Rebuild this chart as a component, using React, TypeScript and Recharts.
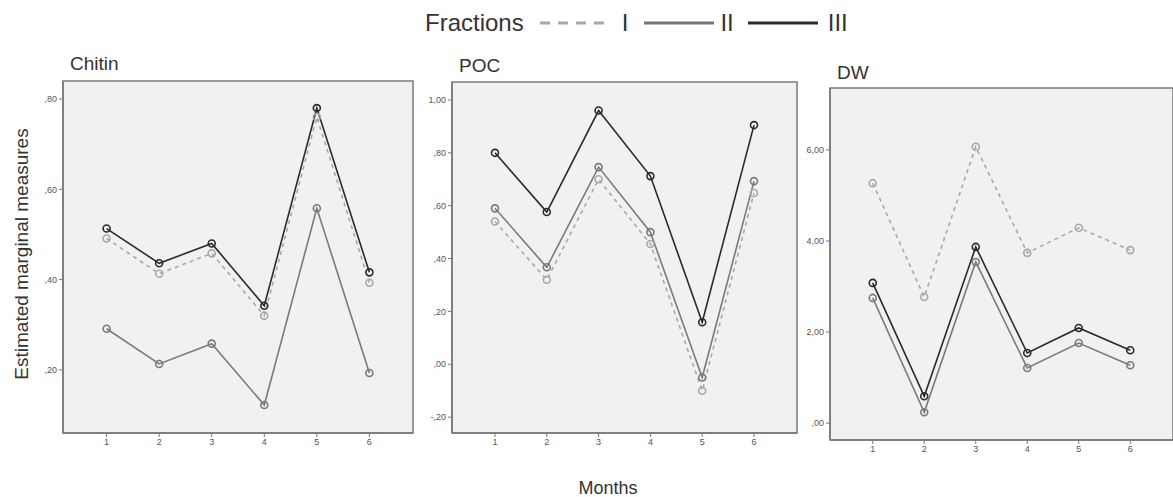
import React from "react";
import { LineChart, Line, XAxis, YAxis, ReferenceArea } from "recharts";

const months = [1, 2, 3, 4, 5, 6];

const chitinI = [0.491, 0.413, 0.458, 0.32, 0.76, 0.393];
const chitinII = [0.291, 0.213, 0.258, 0.122, 0.558, 0.193];
const chitinIII = [0.513, 0.436, 0.48, 0.342, 0.78, 0.416];

const pocI = [0.54, 0.32, 0.7, 0.455, -0.1, 0.648];
const pocII = [0.59, 0.367, 0.746, 0.5, -0.05, 0.693];
const pocIII = [0.8, 0.576, 0.96, 0.712, 0.159, 0.905];

const dwI = [5.27, 2.77, 6.07, 3.74, 4.29, 3.8];
const dwII = [2.75, 0.24, 3.54, 1.21, 1.76, 1.27];
const dwIII = [3.08, 0.59, 3.87, 1.54, 2.09, 1.6];

const chitinTicks = [0.2, 0.4, 0.6, 0.8];
const pocTicks = [-0.2, 0, 0.2, 0.4, 0.6, 0.8, 1.0];
const dwTicks = [0, 2, 4, 6];

const FONT = "'Liberation Sans', Arial, Helvetica, sans-serif";
const X_DOMAIN: [number, number] = [0.17, 6.83];

const buildRows = (a: number[], b: number[], c: number[]) =>
  months.map((m, i) => ({ month: m, I: a[i], II: b[i], III: c[i] }));

// spss style: ",80" / "1,00" / "-,20"
const fmt = (v: number) => {
  const s = Math.abs(v).toFixed(2).replace(".", ",");
  const t = s.startsWith("0") ? s.slice(1) : s;
  return (v < 0 ? "-" : "") + t;
};

const SERIES = [
  { key: "I", color: "#a8a8a8", dash: "4 4", width: 1.6 },
  { key: "II", color: "#7a7a7a", dash: undefined, width: 1.6 },
  { key: "III", color: "#2a2a2a", dash: undefined, width: 1.6 },
];

const Panel: React.FC<{
  title: string;
  rows: { month: number; I: number; II: number; III: number }[];
  yDomain: [number, number];
  yTicks: number[];
  plotLeft: number;
  plotTop: number;
  plotW: number;
  plotH: number;
  titleTop: number;
}> = ({ title, rows, yDomain, yTicks, plotLeft, plotTop, plotW, plotH, titleTop }) => {
  const yW = 50;
  const mTop = 5;
  const xH = 30;
  return (
    <>
      <div
        style={{
          position: "absolute",
          left: plotLeft + 7,
          top: titleTop,
          fontFamily: FONT,
          fontSize: 19,
          color: "#333",
          lineHeight: 1,
        }}
      >
        {title}
      </div>
      <div style={{ position: "absolute", left: plotLeft - yW, top: plotTop - mTop }}>
        <LineChart
          width={yW + plotW + 2}
          height={plotH + mTop + xH}
          data={rows}
          margin={{ top: mTop, right: 2, bottom: 0, left: 0 }}
        >
          <XAxis
            type="number"
            dataKey="month"
            domain={X_DOMAIN}
            ticks={months}
            allowDataOverflow
            height={xH}
            tickSize={4}
            axisLine={{ stroke: "#777", strokeWidth: 1.5 }}
            tickLine={{ stroke: "#777" }}
            tick={{ fontSize: 9, fill: "#555", fontFamily: FONT }}
          />
          <YAxis
            type="number"
            domain={yDomain}
            ticks={yTicks}
            allowDataOverflow
            width={yW}
            tickSize={4}
            tickFormatter={fmt}
            axisLine={{ stroke: "#777", strokeWidth: 1.5 }}
            tickLine={{ stroke: "#777" }}
            tick={{ fontSize: 9, fill: "#555", fontFamily: FONT }}
          />
          <ReferenceArea
            x1={X_DOMAIN[0]}
            x2={X_DOMAIN[1]}
            y1={yDomain[0]}
            y2={yDomain[1]}
            fill="#f1f1f1"
            fillOpacity={1}
            stroke="#7a7a7a"
            strokeWidth={1.5}
          />
          {SERIES.map((s) => (
            <Line
              key={s.key}
              dataKey={s.key}
              type="linear"
              stroke={s.color}
              strokeWidth={s.width}
              strokeDasharray={s.dash}
              dot={{ r: 3.5, stroke: s.color, strokeWidth: 1.6, fill: "none", strokeDasharray: "" }}
              activeDot={false}
              isAnimationActive={false}
            />
          ))}
        </LineChart>
      </div>
    </>
  );
};

const Legend = () => (
  <div
    style={{
      position: "absolute",
      left: 425,
      top: 8,
      height: 30,
      display: "flex",
      alignItems: "center",
      fontFamily: FONT,
      fontSize: 24,
      color: "#333",
    }}
  >
    <span>Fractions</span>
    <svg width={70} height={10} style={{ marginLeft: 16 }}>
      <line x1={0} y1={5} x2={64} y2={5} stroke="#a8a8a8" strokeWidth={3} strokeDasharray="10 8" />
    </svg>
    <span style={{ marginLeft: 12 }}>I</span>
    <svg width={72} height={10} style={{ marginLeft: 16 }}>
      <line x1={0} y1={5} x2={70} y2={5} stroke="#777" strokeWidth={3} />
    </svg>
    <span style={{ marginLeft: 4 }}>II</span>
    <svg width={72} height={10} style={{ marginLeft: 14 }}>
      <line x1={0} y1={5} x2={70} y2={5} stroke="#2a2a2a" strokeWidth={3} />
    </svg>
    <span style={{ marginLeft: 8 }}>III</span>
  </div>
);

export default function App() {
  return (
    <div
      style={{
        position: "absolute",
        left: 0,
        top: 0,
        width: 1173,
        height: 497,
        background: "#fff",
        overflow: "hidden",
      }}
    >
      <Legend />
      <Panel
        title="Chitin"
        rows={buildRows(chitinI, chitinII, chitinIII)}
        yDomain={[0.06, 0.84]}
        yTicks={chitinTicks}
        plotLeft={63}
        plotTop={81}
        plotW={350}
        plotH={352}
        titleTop={54}
      />
      <Panel
        title="POC"
        rows={buildRows(pocI, pocII, pocIII)}
        yDomain={[-0.26, 1.068]}
        yTicks={pocTicks}
        plotLeft={452}
        plotTop={82}
        plotW={345}
        plotH={351}
        titleTop={56}
      />
      <Panel
        title="DW"
        rows={buildRows(dwI, dwII, dwIII)}
        yDomain={[-0.37, 7.36]}
        yTicks={dwTicks}
        plotLeft={830}
        plotTop={88}
        plotW={343}
        plotH={352}
        titleTop={63}
      />
      <div
        style={{
          position: "absolute",
          left: 22,
          top: 254,
          transform: "translate(-50%, -50%) rotate(-90deg)",
          whiteSpace: "nowrap",
          fontFamily: FONT,
          fontSize: 19,
          color: "#333",
        }}
      >
        Estimated marginal measures
      </div>
      <div
        style={{
          position: "absolute",
          left: 608,
          top: 479,
          transform: "translateX(-50%)",
          fontFamily: FONT,
          fontSize: 18,
          lineHeight: 1,
          color: "#333",
        }}
      >
        Months
      </div>
    </div>
  );
}
